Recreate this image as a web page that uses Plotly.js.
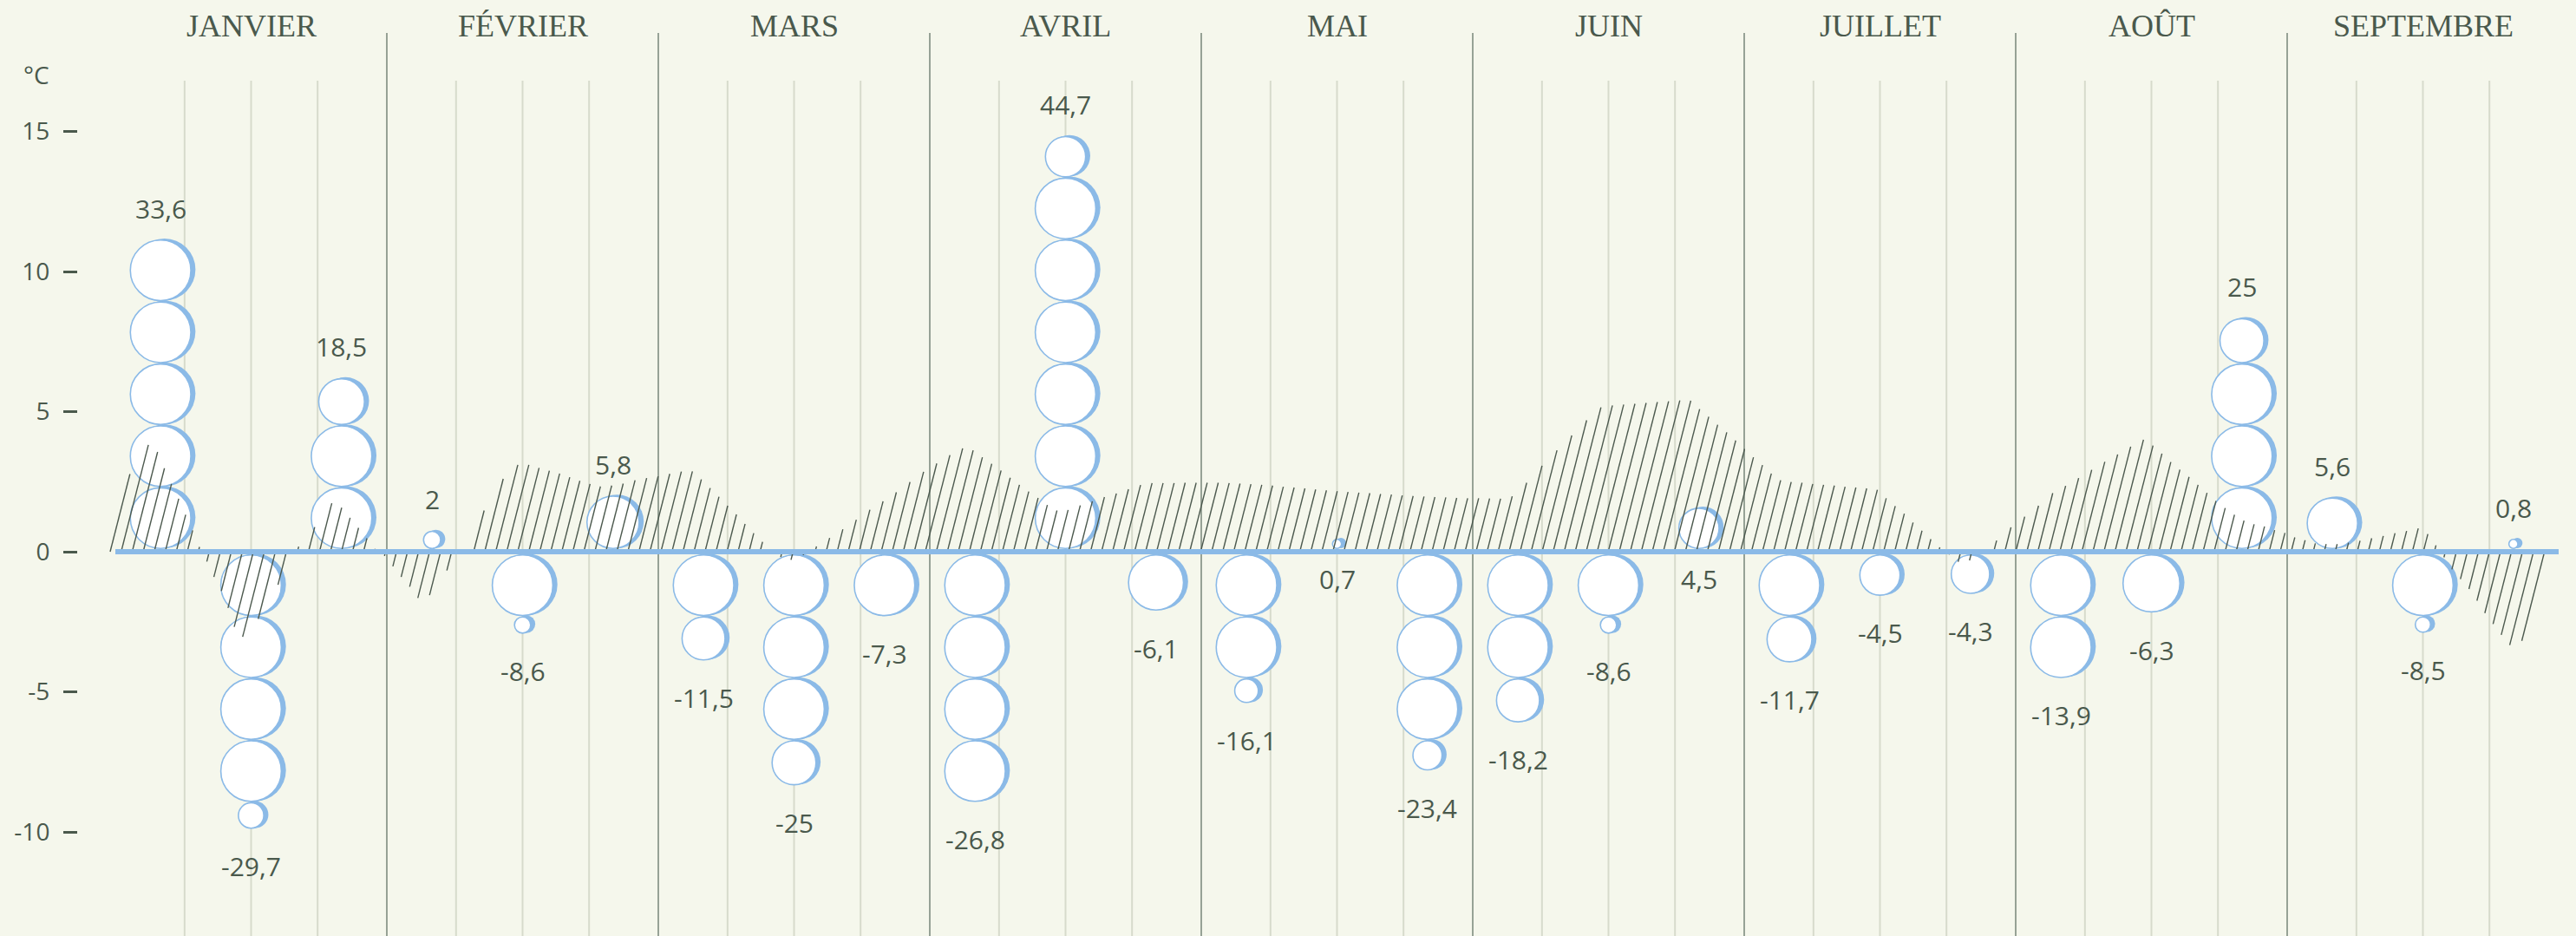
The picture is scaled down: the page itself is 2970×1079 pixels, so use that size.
<!DOCTYPE html>
<html><head><meta charset="utf-8">
<script src="https://cdn.plot.ly/plotly-3.0.1.min.js"></script>
<style>html,body{margin:0;padding:0;background:#f5f7ec;} #chart{width:2970px;height:1079px;}</style>
</head><body><div id="chart"></div>
<script>
// ---------- DATA ----------
const months = ['JANVIER','FÉVRIER','MARS','AVRIL','MAI','JUIN','JUILLET','AOÛT','SEPTEMBRE'];
// one value per dekad (3 per month)
const dekadValues = [33.6,-29.7,18.5, 2,-8.6,5.8, -11.5,-25,-7.3, -26.8,44.7,-6.1,
                     -16.1,0.7,-23.4, -18.2,-8.6,4.5, -11.7,-4.5,-4.3, -13.9,-6.3,25, 5.6,-8.5,0.8];
// temperature anomaly (°C), x in months since 1 January
const anomX = [-0.02,0.02,0.05,0.09,0.125,0.157,0.182,0.208,0.236,0.262,0.288,0.313,0.342,0.367,0.399,0.438,0.473,0.534,0.601,0.636,0.66,0.693,0.744,0.805,0.837,0.869,0.901,0.930,0.958,0.997,
 1.029,1.061,1.093,1.118,1.166,1.198,1.236,1.268,1.290,1.307,1.380,1.447,1.495,1.534,1.569,1.610,1.649,1.687,1.722,1.760,1.799,1.837,1.879,1.917,1.968,
 2.013,2.058,2.099,2.137,2.169,2.201,2.233,2.268,2.300,2.332,2.364,2.396,2.428,2.463,2.505,2.546,2.604,2.652,2.703,2.751,2.799,2.850,2.898,2.946,2.994,
 3.045,3.096,3.141,3.176,3.211,3.246,3.281,3.316,3.351,3.387,3.419,3.450,3.489,3.533,3.578,3.623,3.671,3.716,3.757,3.802,
 4.058,4.208,4.336,4.486,4.658,4.767,4.930,5.134,5.188,5.240,5.297,5.355,5.412,5.463,5.507,5.645,5.799,5.831,5.863,5.898,5.933,5.968,
 6.000,6.032,6.064,6.096,6.131,6.169,6.249,6.371,6.489,6.521,6.556,6.591,6.623,6.655,6.690,6.722,6.754,6.789,6.827,6.882,6.930,6.981,
 7.035,7.089,7.137,7.188,7.236,7.284,7.332,7.380,7.431,7.476,7.511,7.546,7.578,7.613,7.649,7.681,7.716,7.744,7.776,7.811,7.853,7.885,7.920,7.962,7.997,
 8.032,8.070,8.112,8.192,8.233,8.275,8.319,8.361,8.415,8.450,8.495,8.527,8.556,8.585,8.610,8.649,8.681,8.706,8.735,8.767,8.799,8.831,8.863,8.888,8.923,8.946,8.984];
const anomY = [0.3,1.5,2.7,3.5,3.85,3.55,2.97,2.4,1.84,1.27,0.7,0.1,-0.45,-1.0,-1.55,-2.7,-3.1,-2.3,-1.15,-0.15,0.0,0.4,1.0,1.84,1.55,1.17,0.8,0.44,0.1,-0.2,
 -0.62,-1.0,-1.36,-1.72,-1.52,-1.05,-0.43,-0.05,0.1,0.7,1.8,2.9,3.18,3.07,2.97,2.87,2.76,2.61,2.5,2.4,2.3,2.38,2.45,2.56,2.66,
 2.71,2.82,2.89,2.87,2.45,2.2,1.86,1.52,1.22,0.86,0.55,0.24,0.0,-0.3,-0.3,-0.05,0.34,0.62,0.96,1.3,1.65,1.93,2.28,2.63,2.97,
 3.27,3.59,3.78,3.5,3.26,3.03,2.76,2.5,2.25,2.0,1.79,1.53,1.42,1.58,1.73,1.89,2.04,2.17,2.33,2.45,
 2.47,2.41,2.3,2.17,2.07,2.0,1.93,1.89,2.35,2.92,3.49,4.06,4.62,5.14,5.22,5.32,5.43,5.14,4.88,4.57,4.29,3.98,
 3.69,3.4,3.12,2.83,2.56,2.5,2.43,2.33,2.23,1.94,1.64,1.36,1.03,0.75,0.43,0.15,-0.1,-0.37,-0.33,0.0,0.41,0.86,
 1.27,1.68,2.1,2.38,2.66,2.95,3.24,3.5,3.8,4.03,3.75,3.45,3.14,2.87,2.6,2.32,2.0,1.77,1.53,1.29,1.05,0.97,0.9,0.74,0.66,
 0.5,0.41,0.28,0.27,0.34,0.41,0.5,0.58,0.7,0.76,0.86,0.55,0.12,-0.33,-0.68,-1.1,-1.46,-1.88,-2.3,-2.7,-3.1,-3.47,-3.2,-2.82,-2.4,-2.14,-1.6];
const yTickVals = [15,10,5,0,-5,-10];
const yTickText = ['15','10','5','0','-5','-10'];
const labelsBelowLine = new Set([13,17]); // label placement exceptions

// ---------- GEOMETRY / STYLE ----------
const W = 2970, H = 1079;
const plotLeft = 90, startPx = 133, monthPx = 313, zeroPx = 636, unitPx = 32.3;
const xRange = [(plotLeft - startPx)/monthPx, (W - startPx)/monthPx];
const yRange = [-(H - zeroPx)/unitPx, zeroPx/unitPx];
const txt = '#4a594c', blue = '#8bbae7', bg = '#f5f7ec';
const bubblePx = 71.4, bubbleUnit = 6.7, gapPx = 3;

// bubbles
const bx = [], by = [], bs = [];
const labels = [];
dekadValues.forEach((v, i) => {
  const m = Math.floor(i/3), d = i % 3;
  const xc = m + (d + 0.5)/3;
  const s = v < 0 ? -1 : 1;
  const a = Math.abs(v)/bubbleUnit;
  const n = Math.floor(a), f = a - n;
  let end = gapPx;
  for (let k = 0; k < n; k++) {
    bx.push(xc); by.push(s*(end + bubblePx/2)/unitPx); bs.push(bubblePx);
    end += bubblePx;
  }
  if (f >= 0.1) {
    const dia = Math.max(f*bubblePx, 12);
    bx.push(xc); by.push(s*(end + dia/2)/unitPx); bs.push(dia);
    end += dia;
  }
  const text = String(v).replace('.', ',');
  if (labelsBelowLine.has(i)) {
    labels.push({x: xc, y: 0, yshift: -31, text});
  } else {
    labels.push({x: xc, y: s*end/unitPx, yshift: s > 0 ? 36 : -43, text});
  }
});
const shX = 4.5/monthPx, shY = 1/unitPx;

// hatch lines clipped by the anomaly curve
function curve(x) {
  if (x < anomX[0] || x > anomX[anomX.length-1]) return 0;
  for (let i = 1; i < anomX.length; i++) {
    if (x <= anomX[i]) {
      const t = (x - anomX[i-1])/(anomX[i] - anomX[i-1]);
      return anomY[i-1] + t*(anomY[i] - anomY[i-1]);
    }
  }
  return 0;
}
const slant = 0.255*unitPx/monthPx; // months per °C
const hx = [], hy = [];
const step = 0.01;
for (let px = 127; px < 2952; px += 12.7) {
  const x0 = (px - startPx)/monthPx;
  const c = curve(x0);
  let t = 0;
  if (c > 0) {
    while (t < 30 && (t + step) <= curve(x0 + slant*(t + step))) t += step;
    if (t > 0.03) { hx.push(x0, x0 + slant*t, null); hy.push(0, t, null); }
  } else if (c < 0) {
    while (t < 30 && -(t + step) >= curve(x0 - slant*(t + step))) t += step;
    if (t > 0.03) { hx.push(x0, x0 - slant*t, null); hy.push(0, -t, null); }
  }
}

// ---------- TRACES ----------
const traces = [
  {type:'scatter', mode:'markers', x: bx.map(v => v + shX), y: by.map(v => v + shY),
   marker:{size: bs, color: blue, opacity:1, line:{width:0}}, hoverinfo:'skip'},
  {type:'scatter', mode:'markers', x: bx, y: by,
   marker:{size: bs.map(v => v - 1.6), color:'#ffffff', opacity:1, line:{width:1.6, color: blue}}, hoverinfo:'skip'},
  {type:'scatter', mode:'lines', x: hx, y: hy, connectgaps:false,
   line:{color:'#4d5a4f', width:1.4}, hoverinfo:'skip'},
  {type:'scatter', mode:'lines', x:[0, 9], y:[0, 0], line:{color: blue, width:6}, hoverinfo:'skip'}
];

// ---------- SHAPES ----------
const shapes = [];
for (let m = 0; m < months.length; m++) {
  [0.255, 0.5, 0.745].forEach(fr => shapes.push({type:'line', xref:'x', yref:'paper', x0:m+fr, x1:m+fr,
    y0:0, y1:1 - 93/H, line:{color:'#d7dbcc', width:2}, layer:'below'}));
  if (m > 0) shapes.push({type:'line', xref:'x', yref:'paper', x0:m, x1:m, y0:0, y1:1 - 38/H,
    line:{color:'#7f8c80', width:1.6}, layer:'below'});
}

// ---------- ANNOTATIONS ----------
const annotations = [];
months.forEach((name, m) => annotations.push({xref:'x', yref:'paper', x:m+0.5, y:1 - 30/H, yanchor:'middle', xanchor:'center',
  text:name, showarrow:false, font:{family:'Liberation Serif', size:36, color:txt}}));
annotations.push({xref:'paper', yref:'paper', x:(42 - plotLeft)/(W - plotLeft), y:1 - 86/H, yanchor:'middle', xanchor:'center',
  text:'°C', showarrow:false, font:{family:'Open Sans', size:28, color:txt}});
labels.forEach(l => annotations.push({xref:'x', yref:'y', x:l.x, y:l.y, yshift:l.yshift, yanchor:'middle', xanchor:'center',
  text:l.text, showarrow:false, font:{family:'Open Sans', size:30, color:txt}}));

const layout = {
  width: W, height: H, margin:{l:plotLeft, r:0, t:0, b:0},
  paper_bgcolor: bg, plot_bgcolor: bg, showlegend:false,
  xaxis:{range:xRange, visible:false, fixedrange:true},
  yaxis:{range:yRange, tickvals:yTickVals, ticktext:yTickText, ticks:'outside', ticklen:16, tickwidth:3,
         tickcolor:txt, tickfont:{family:'Open Sans', size:28, color:txt}, showgrid:false, zeroline:false,
         showline:false, ticklabelstandoff:10, fixedrange:true},
  shapes, annotations
};
Plotly.newPlot('chart', traces, layout, {staticPlot:true, displayModeBar:false});
</script></body></html>
